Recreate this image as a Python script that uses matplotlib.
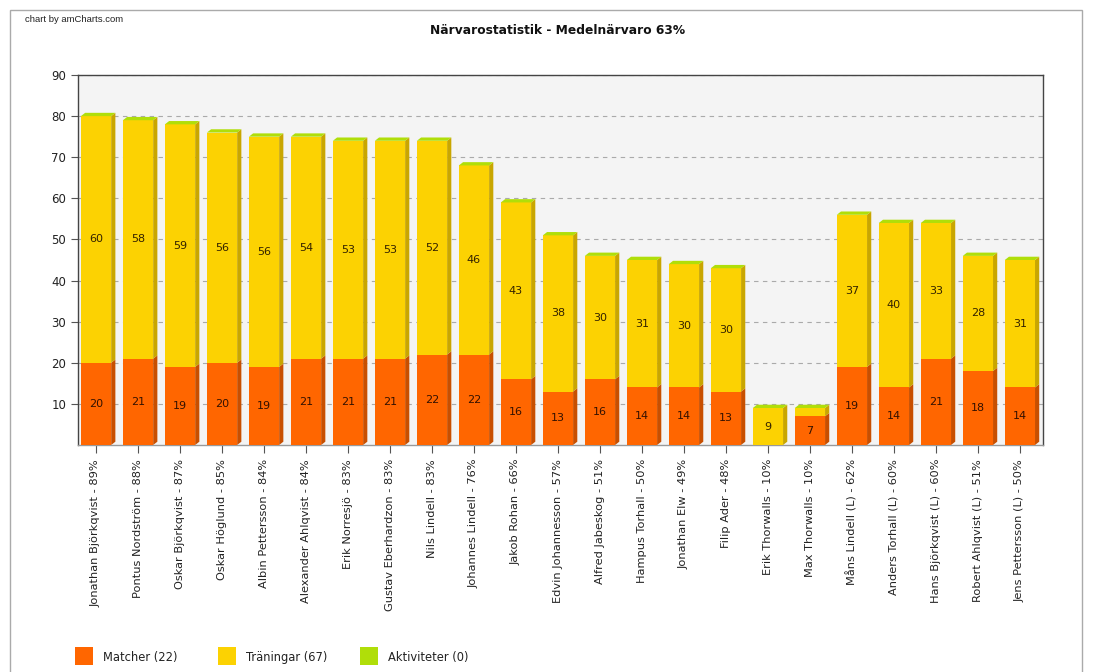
import matplotlib.pyplot as plt
from matplotlib.patches import Polygon, Rectangle

plt.rcParams['font.family'] = ['DejaVu Sans']

namn = ["Jonathan Björkqvist - 89%", "Pontus Nordström - 88%", "Oskar Björkqvist - 87%",
        "Oskar Höglund - 85%", "Albin Pettersson - 84%", "Alexander Ahlqvist - 84%",
        "Erik Norresjö - 83%", "Gustav Eberhardzon - 83%", "Nils Lindell - 83%",
        "Johannes Lindell - 76%", "Jakob Rohan - 66%", "Edvin Johannesson - 57%",
        "Alfred Jabeskog - 51%", "Hampus Torhall - 50%", "Jonathan Elw - 49%",
        "Filip Ader - 48%", "Erik Thorwalls - 10%", "Max Thorwalls - 10%",
        "Måns Lindell (L) - 62%", "Anders Torhall (L) - 60%", "Hans Björkqvist (L) - 60%",
        "Robert Ahlqvist (L) - 51%", "Jens Pettersson (L) - 50%"]
matcher = [20, 21, 19, 20, 19, 21, 21, 21, 22, 22, 16, 13, 16, 14, 14, 13, 0, 7, 19, 14, 21, 18, 14]
traningar = [60, 58, 59, 56, 56, 54, 53, 53, 52, 46, 43, 38, 30, 31, 30, 30, 9, 2, 37, 40, 33, 28, 31]
aktiviteter = [0] * len(namn)

c_match = '#FF6600'
c_tran = '#FCD202'
c_akt = '#B0DE09'
c_match_side = '#C84F00'
c_tran_side = '#C9A600'

fig = plt.figure(figsize=(10.94, 6.72), dpi=100)
ax = fig.add_axes([78/1094, 1-445/672, (1043-78)/1094, (445-75)/672])
ax.set_facecolor('#F4F4F4')

w = 0.72
dx = 0.1   # 3d djup i x
dy = 0.8   # 3d djup i y

x = list(range(len(namn)))
ax.bar(x, matcher, width=w, color=c_match, zorder=3)
ax.bar(x, traningar, width=w, bottom=matcher, color=c_tran, zorder=3)

for i in x:
    x0 = i - w/2
    x1 = i + w/2
    # sidor
    if matcher[i] > 0:
        ax.add_patch(Polygon([(x1, 0), (x1+dx, dy), (x1+dx, matcher[i]+dy), (x1, matcher[i])],
                             closed=True, color=c_match_side, zorder=3, lw=0))
    top = matcher[i] + traningar[i] + aktiviteter[i]
    ax.add_patch(Polygon([(x1, matcher[i]), (x1+dx, matcher[i]+dy), (x1+dx, top+dy), (x1, top)],
                         closed=True, color=c_tran_side, zorder=3, lw=0))
    # topp (aktiviteter)
    ax.add_patch(Polygon([(x0, top), (x0+dx, top+dy), (x1+dx, top+dy), (x1, top)],
                         closed=True, color=c_akt, zorder=4, lw=0))
    if matcher[i] >= 3:
        ax.text(i, matcher[i]/2, str(matcher[i]), ha='center', va='center', fontsize=8, color='#331100', zorder=5)
    if traningar[i] >= 3:
        ax.text(i, matcher[i] + traningar[i]/2, str(traningar[i]), ha='center', va='center',
                fontsize=8, color='#332200', zorder=5)

ax.set_xlim(-0.43, len(namn) - 0.45)
ax.set_ylim(0, 90)
ax.set_yticks(range(10, 100, 10))
ax.set_xticks(x)
ax.set_xticklabels(namn, rotation=90, fontsize=8.2, color='#222222')
ax.tick_params(axis='y', labelsize=8.5, colors='#222222', length=5, color='#555555')
ax.tick_params(axis='x', length=6, color='#555555', pad=4)
ax.grid(axis='y', linestyle=(0, (4, 4)), color='#AAAAAA', linewidth=0.8, zorder=1)
for s in ax.spines.values():
    s.set_color('#444444')
    s.set_linewidth(1.0)
ax.spines['bottom'].set_color('#999999')

fig.text(558/1094, 1-31/672, 'Närvarostatistik - Medelnärvaro 63%', ha='center', va='center',
         fontsize=8.8, fontweight='bold', color='#111111')
fig.text(25/1094, 1-20/672, 'chart by amCharts.com', ha='left', va='center',
         fontsize=6.8, color='#222222', family=['Liberation Sans'])

# ram
fig.add_artist(Rectangle((10/1094, -0.1), (1082-10)/1094, 1.1 - 10/672, transform=fig.transFigure,
                         fill=False, edgecolor='#AAAAAA', linewidth=1))

# legend
leg = [('Matcher (22)', c_match, 75, 103), ('Träningar (67)', c_tran, 218, 246), ('Aktiviteter (0)', c_akt, 360, 388)]
for txt, col, xs, xt in leg:
    fig.add_artist(Rectangle((xs/1094, 1-665/672), 18/1094, 18/672, transform=fig.transFigure,
                             color=col, lw=0))
    fig.text(xt/1094, 1-657/672, txt, ha='left', va='center', fontsize=8.3, color='#222222')

plt.savefig('out.png', dpi=100)
